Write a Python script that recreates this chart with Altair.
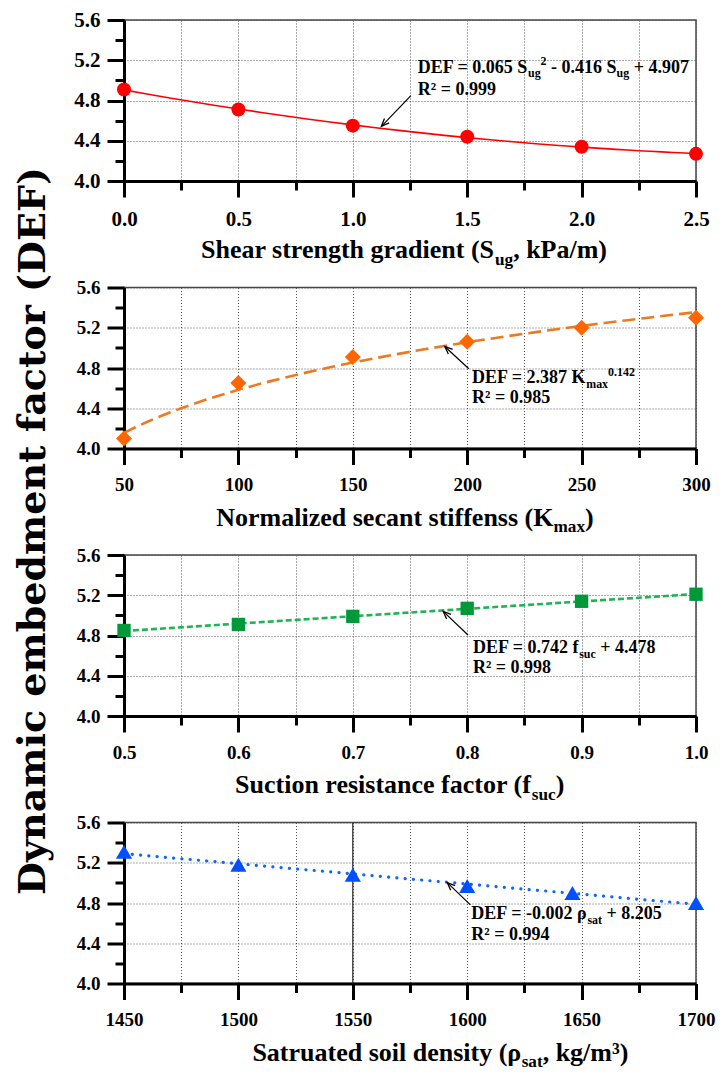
import math
import altair as alt
import pandas as pd

# ---------------- data ----------------
sug = [0.0, 0.5, 1.0, 1.5, 2.0, 2.5]
def_sug = [4.91, 4.71, 4.55, 4.44, 4.34, 4.27]

kmax = [50, 100, 150, 200, 250, 300]
def_kmax = [4.10, 4.65, 4.91, 5.06, 5.20, 5.30]

fsuc = [0.5, 0.6, 0.7, 0.8, 0.9, 1.0]
def_fsuc = [4.85, 4.91, 4.99, 5.07, 5.14, 5.21]

rho = [1450, 1500, 1550, 1600, 1646, 1700]
def_rho = [5.31, 5.18, 5.08, 4.97, 4.90, 4.80]

y_ticks = [4.0, 4.2, 4.4, 4.6, 4.8, 5.0, 5.2, 5.4, 5.6]
x_ticks_sug = [0.0, 0.25, 0.5, 0.75, 1.0, 1.25, 1.5, 1.75, 2.0, 2.25, 2.5]
x_ticks_kmax = [50, 75, 100, 125, 150, 175, 200, 225, 250, 275, 300]
x_ticks_fsuc = [0.5, 0.55, 0.6, 0.65, 0.7, 0.75, 0.8, 0.85, 0.9, 0.95, 1.0]
x_ticks_rho = [1450, 1475, 1500, 1525, 1550, 1575, 1600, 1625, 1650, 1675, 1700]
marker_line_rho = [1550]

y_title = "Dynamic embedment factor (DEF)"

title_sug = [("Shear strength gradient (S", "n"), ("ug", "sub"), (", kPa/m)", "n")]
title_kmax = [("Normalized secant stiffenss (K", "n"), ("max", "sub"), (")", "n")]
title_fsuc = [("Suction resistance factor (f", "n"), ("suc", "sub"), (")", "n")]
title_rho = [("Satruated soil density (ρ", "n"), ("sat", "sub"), (", kg/m³)", "n")]

eq_sug = [("DEF = 0.065 S", "n"), ("ug", "sub"), ("2", "sup"),
          (" - 0.416 S", "n"), ("ug", "sub"), (" + 4.907", "n")]
eq_kmax = [("DEF = 2.387 K", "n"), ("max", "sub"), ("0.142", "sup")]
eq_fsuc = [("DEF = 0.742 f", "n"), ("suc", "sub"), (" + 4.478", "n")]
eq_rho = [("DEF = -0.002 ρ", "n"), ("sat", "sub"), (" + 8.205", "n")]
r2_sug = "R² = 0.999"
r2_kmax = "R² = 0.985"
r2_fsuc = "R² = 0.998"
r2_rho = "R² = 0.994"

# ---------------- styling ----------------
W, H = 572, 161
YDOM = [4.0, 5.6]
FONT = "Liberation Serif"

TB = {' ': 250, '!': 333, '(': 333, ')': 333, ',': 250, '-': 333, '.': 250, '/': 278,
      '=': 570, '+': 570, '²': 300, '³': 300, 'ρ': 549}
for _c in "0123456789":
    TB[_c] = 500
TB.update(dict(A=722, B=667, C=722, D=722, E=667, F=611, G=778, H=778, I=389, J=500, K=778,
               L=667, M=944, N=722, O=778, P=611, Q=778, R=722, S=556, T=667, U=722, V=722,
               W=1000, X=722, Y=722, Z=667))
TB.update(dict(a=500, b=556, c=444, d=556, e=444, f=333, g=500, h=556, i=278, j=333, k=556,
               l=278, m=833, n=556, o=500, p=556, q=556, r=444, s=389, t=333, u=556, v=500,
               w=722, x=500, y=500, z=444))


def tw(s, fs):
    return sum(TB.get(c, 500) for c in s) * fs / 1000.0


def rich(segments, XD, YD, xd, yd, size, center=False, sub_ratio=0.66, extra_dy=0):
    items = []
    for txt, kind in segments:
        fs = size if kind == "n" else round(size * sub_ratio, 1)
        stripped = txt.lstrip(" ")
        lead = len(txt) - len(stripped)
        items.append((stripped, kind, fs, tw(" " * lead, fs), tw(stripped, fs)))
    total = sum(i[3] + i[4] for i in items)
    cur = -total / 2.0 if center else 0.0
    layers = []
    for txt, kind, fs, lead_w, w in items:
        cur += lead_w
        if kind == "n":
            shift = 0
        elif kind == "sub":
            shift = size * 0.26
        else:
            shift = -size * 0.40
        layers.append(
            alt.Chart(pd.DataFrame({"label": [txt]}))
            .mark_text(align="left", baseline="alphabetic", dx=round(cur, 2),
                       dy=round(shift + extra_dy, 2), font=FONT, fontSize=fs,
                       fontWeight="bold", color="black")
            .encode(x=XD(xd), y=YD(yd), text="label:N")
        )
        cur += w
    return layers


ARROW_PATH = "M-0.45,1.1L0,0L0.45,1.1"


def make_panel(xs, ys, xdom, xticks, major_test, fmt, lab_size,
               pt_color, shape, pt_size, line_color, line_dash, line_width, line_cap,
               method, order, title_segs, title_x, eq_segs, eq_xy, r2_text, r2_y,
               arrow, extra=None, y_title_layer=False):
    xscale = alt.Scale(domain=xdom, nice=False, zero=False)
    yscale = alt.Scale(domain=YDOM, nice=False, zero=False)
    ymajor = "(round(datum.value*5) % 2 == 0)"
    xaxis = alt.Axis(
        values=xticks, title=None, grid=True, gridDash=[1, 2], gridColor="#555",
        gridWidth=1, domainColor="black", domainWidth=3, tickColor="black", tickWidth=3,
        tickSize={"condition": {"test": major_test, "value": 16}, "value": 9},
        labelExpr=f"{major_test} ? format(datum.value, '{fmt}') : ''",
        labelFont=FONT, labelFontSize=lab_size, labelFontWeight="bold", labelColor="black",
        labelPadding=11, labelOverlap=False, labelFlush=False)
    yaxis = alt.Axis(
        values=y_ticks, title=None, grid=True, gridDash=[1, 2], gridColor="#555",
        gridWidth=1, gridOpacity={"condition": {"test": ymajor, "value": 1}, "value": 0},
        domainColor="black", domainWidth=3, tickColor="black", tickWidth=3,
        tickSize={"condition": {"test": ymajor, "value": 17}, "value": 9},
        labelExpr=f"{ymajor} ? format(datum.value, '.1f') : ''",
        labelFont=FONT, labelFontSize=lab_size, labelFontWeight="bold", labelColor="black",
        labelPadding=7, labelOverlap=False, labelFlush=False)

    def XF(f):
        return alt.X(f"{f}:Q", scale=xscale, axis=xaxis)

    def YF(f):
        return alt.Y(f"{f}:Q", scale=yscale, axis=yaxis)

    def XD(v):
        return alt.X(datum=v, scale=xscale, axis=xaxis)

    def YD(v):
        return alt.Y(datum=v, scale=yscale, axis=yaxis)

    df = pd.DataFrame({"x": xs, "y": ys})
    layers = []
    if extra is not None:
        layers.append(
            alt.Chart(pd.DataFrame({"x": extra}))
            .mark_rule(color="#333", strokeWidth=1.3)
            .encode(x=XF("x"))
        )
    reg_kwargs = {"method": method}
    if order is not None:
        reg_kwargs["order"] = order
    line_props = dict(color=line_color, strokeWidth=line_width, strokeCap=line_cap)
    if line_dash is not None:
        line_props["strokeDash"] = line_dash
    layers.append(
        alt.Chart(df).transform_regression("x", "y", **reg_kwargs)
        .mark_line(**line_props)
        .encode(x=XF("x"), y=YF("y"))
    )
    layers.append(
        alt.Chart(df).mark_point(shape=shape, size=pt_size, filled=True, color=pt_color,
                                 opacity=1, strokeWidth=0)
        .encode(x=XF("x"), y=YF("y"))
    )
    # arrow
    (tx, ty), (hx, hy) = arrow
    kx = W / (xdom[1] - xdom[0])
    ky = H / (YDOM[1] - YDOM[0])
    px, py = (hx - tx) * kx, -(hy - ty) * ky
    n = math.hypot(px, py)
    theta = math.degrees(math.atan2(px / n, -py / n)) % 360
    arrow_df = pd.DataFrame({"tx": [tx], "ty": [ty], "hx": [hx], "hy": [hy]})
    layers.append(
        alt.Chart(arrow_df).mark_rule(color="black", strokeWidth=1.2)
        .encode(x=XF("tx"), y=YF("ty"), x2="hx:Q", y2="hy:Q")
    )
    layers.append(
        alt.Chart(arrow_df).mark_point(shape=ARROW_PATH, size=200, filled=False,
                                       stroke="black", strokeWidth=1.3, opacity=1,
                                       angle=round(theta, 1))
        .encode(x=XF("hx"), y=YF("hy"))
    )
    # equation text
    ex, ey = eq_xy
    layers += rich(eq_segs, XD, YD, ex, ey, 18)
    layers += rich([(r2_text, "n")], XD, YD, ex, r2_y, 18)
    # axis title
    layers += rich(title_segs, XD, YD, title_x, YDOM[0], 26, center=True, extra_dy=77)
    if y_title_layer:
        layers.append(
            alt.Chart(pd.DataFrame({"label": [y_title]}))
            .mark_text(align="center", baseline="middle", angle=270, dx=24, dy=-90,
                       font="DejaVu Serif", fontSize=38, fontWeight="bold", color="black")
            .encode(x=XD(xdom[0]), y=YD(YDOM[1]), text="label:N")
        )
    return alt.layer(*layers).properties(width=W, height=H)


p1 = make_panel(sug, def_sug, [0.0, 2.5], x_ticks_sug, "(round(datum.value*4) % 2 == 0)", ".1f", 21,
                "#FF0000", "circle", 196, "#FF0000", None, 1.6, "butt",
                "poly", 2, title_sug, 1.224, eq_sug, (1.284, 5.077), r2_sug, 4.859,
                ((1.254, 4.849), (1.125, 4.543)))
p2 = make_panel(kmax, def_kmax, [50, 300], x_ticks_kmax, "(round((datum.value-50)/25) % 2 == 0)", "d", 19,
                "#FF6600", "diamond", 256, "#EC7A22", [13, 6], 2.6, "butt",
                "pow", None, title_kmax, 172.8, eq_kmax, (202.1, 4.649), r2_kmax, 4.45,
                ((200.7, 4.792), (190.2, 5.014)))
p3 = make_panel(fsuc, def_fsuc, [0.5, 1.0], x_ticks_fsuc, "(round(datum.value*20) % 2 == 0)", ".1f", 19,
                "#00993A", "square", 178, "#1DB454", [6, 3], 2.6, "butt",
                "linear", None, title_fsuc, 0.741, eq_fsuc, (0.805, 4.624), r2_fsuc, 4.426,
                ((0.8007, 4.805), (0.779, 5.04)), y_title_layer=True)
p4 = make_panel(rho, def_rho, [1450, 1700], x_ticks_rho, "(round(datum.value/25) % 2 == 0)", "d", 19,
                "#0050FF", "triangle-up", 260, "#1166FF", [0.1, 8.2], 3.2, "round",
                "linear", None, title_rho, 1588.3, eq_rho, (1601.8, 4.64), r2_rho, 4.432,
                ((1601.4, 4.782), (1591.3, 5.003)), extra=marker_line_rho)

chart = (
    alt.vconcat(p1, p2, p3, p4, spacing=106.5, bounds="flush")
    .properties(padding={"left": 6, "top": 0, "right": 0, "bottom": 0})
    .configure_view(stroke="#444", strokeWidth=1.5)
)

chart.save("out.html", embed_options={"renderer": "svg", "actions": False})
